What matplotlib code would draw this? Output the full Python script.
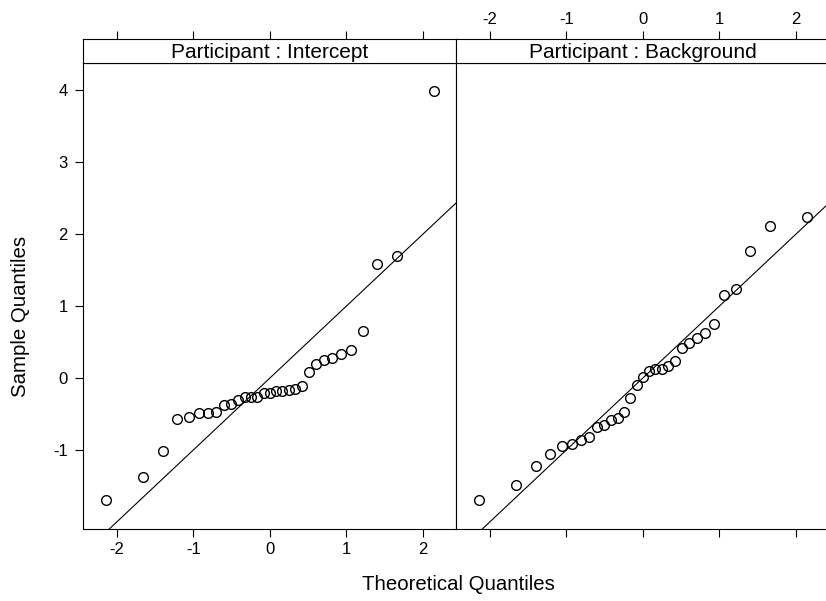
from statistics import NormalDist
import numpy as np
import matplotlib
matplotlib.use('Agg')
import matplotlib.pyplot as plt

plt.rcParams['font.family'] = ['Liberation Sans', 'DejaVu Sans']
plt.rcParams['axes.unicode_minus'] = False

# 样本分位数
panels = ['Participant : Intercept', 'Participant : Background']
intercept = [-1.69, -1.38, -1.02, -0.57, -0.54, -0.49, -0.48, -0.47, -0.37, -0.36,
             -0.30, -0.27, -0.27, -0.27, -0.21, -0.21, -0.18, -0.18, -0.17, -0.15,
             -0.11, 0.09, 0.19, 0.25, 0.28, 0.33, 0.39, 0.65, 1.59, 1.70, 3.98]
background = [-1.70, -1.48, -1.22, -1.05, -0.95, -0.92, -0.86, -0.82, -0.68, -0.65,
              -0.59, -0.55, -0.47, -0.28, -0.10, 0.01, 0.10, 0.13, 0.13, 0.16,
              0.24, 0.41, 0.48, 0.56, 0.63, 0.75, 1.15, 1.24, 1.77, 2.11, 2.24]
xticks = [-2, -1, 0, 1, 2]
yticks = [-1, 0, 1, 2, 3, 4]

# 理论分位数：ppoints(n) 的正态分位数
def theo(n):
    nd = NormalDist()
    return [nd.inv_cdf((i - 0.5) / n) for i in range(1, n + 1)]

W, H = 826, 601
fig = plt.figure(figsize=(W / 100, H / 100), dpi=100)

def box(l, t, r, b):
    return [l / W, (H - b) / H, (r - l) / W, (b - t) / H]

xlim = (-2.44, 2.43)
ylim = (-2.097, 4.375)
lefts = [83, 456]

for k, (name, vals) in enumerate(zip(panels, [intercept, background])):
    l = lefts[k]
    ax = fig.add_axes(box(l, 63, l + 373, 529))
    ax.plot(theo(len(vals)), vals, 'o', mfc='none', mec='black', ms=7, mew=1.0)
    ax.axline((0, 0), slope=1, color='black', lw=0.8)
    ax.set_xlim(*xlim)
    ax.set_ylim(*ylim)
    ax.set_xticks(xticks)
    ax.set_yticks(yticks)
    ax.tick_params(direction='out', length=6, width=0.8, labelsize=12, pad=3)
    if k == 0:
        ax.tick_params(axis='y', pad=5)
    else:
        ax.tick_params(axis='y', left=False, labelleft=False)
        ax.tick_params(axis='x', labelbottom=False)
    for s in ax.spines.values():
        s.set_linewidth(0.8)

    # 条带（顶部刻度画在条带上方）
    st = fig.add_axes(box(l, 39, l + 373, 63))
    st.set_xlim(*xlim)
    st.set_xticks(xticks)
    st.set_yticks([])
    st.xaxis.tick_top()
    st.tick_params(axis='x', direction='out', length=6, width=0.8, labelsize=12, pad=3,
                   labeltop=(k == 1))
    for s in st.spines.values():
        s.set_linewidth(0.8)
    st.text(0.5, 0.45, name, transform=st.transAxes, ha='center', va='center', fontsize=15)

fig.text(458 / W, (H - 584) / H, 'Theoretical Quantiles', ha='center', va='center', fontsize=14.7)
fig.text(21 / W, (H - 316) / H, 'Sample Quantiles', ha='center', va='center',
         rotation=90, fontsize=14.7)

fig.savefig('out.png', dpi=100)
